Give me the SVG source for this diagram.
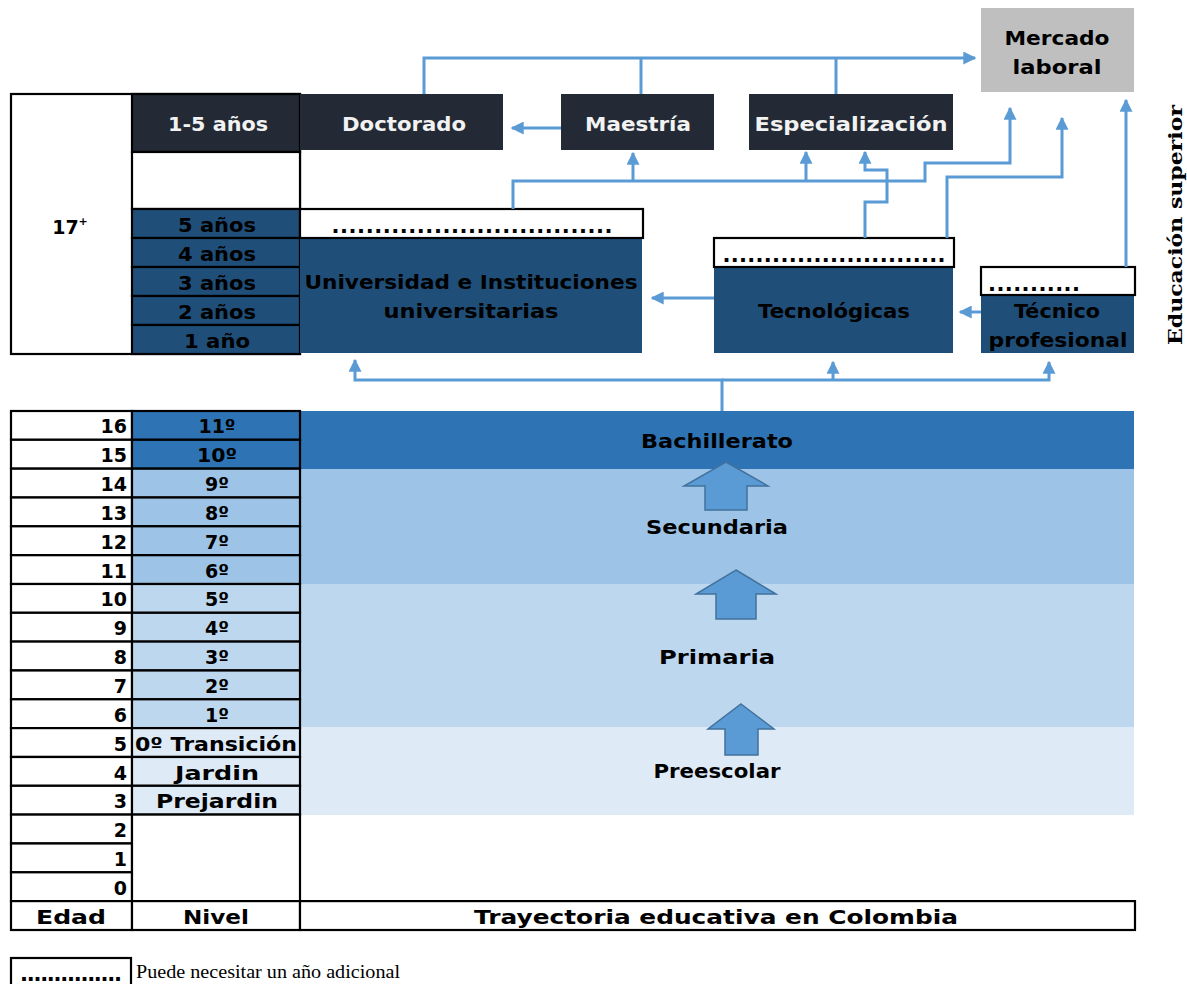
<svg xmlns="http://www.w3.org/2000/svg" width="1187" height="984" viewBox="0 0 1187 984">
<style>
.b{stroke:#000;stroke-width:2.2}
.dk{fill:#232a35}
.bl{fill:#1f4e79}
.c1{fill:#2e74b5}
.c2{fill:#9dc3e6}
.c3{fill:#bdd7ee}
.c4{fill:#deebf7}
.w{fill:#fff}
text{font-family:"DejaVu Sans",sans-serif;font-weight:bold;fill:#000}
.wt{fill:#f2f2f2}
.m{text-anchor:middle}
.r{text-anchor:end}
.t17{font-size:19px}
.t18{font-size:19px}
.dots{font-size:21px}
.con{fill:none;stroke:#5b9bd5;stroke-width:3}
.ba{fill:#5b9bd5;stroke:#41719c;stroke-width:1.5}
</style>
<defs>
<marker id="ah" viewBox="0 0 10 10" refX="9" refY="5" markerWidth="13" markerHeight="13" markerUnits="userSpaceOnUse" orient="auto">
<path d="M0,0 L10,5 L0,10 z" fill="#5b9bd5"/>
</marker>
</defs>
<rect width="1187" height="984" fill="#fff"/>

<g id="tabla-superior">
<rect x="11" y="94" width="289" height="260" class="w b"/>
<rect x="132" y="94" width="168" height="58" class="dk b"/>
<rect x="132" y="152" width="168" height="57" class="w b"/>
<rect x="132" y="209" width="168" height="29" class="bl b"/>
<rect x="132" y="238" width="168" height="29" class="bl b"/>
<rect x="132" y="267" width="168" height="29" class="bl b"/>
<rect x="132" y="296" width="168" height="29" class="bl b"/>
<rect x="132" y="325" width="168" height="29" class="bl b"/>
<text x="218" y="131" class="m t17 wt" textLength="100" lengthAdjust="spacingAndGlyphs">1-5 años</text>
<text x="217" y="232" class="m t17" textLength="78" lengthAdjust="spacingAndGlyphs">5 años</text>
<text x="217" y="261" class="m t17" textLength="78" lengthAdjust="spacingAndGlyphs">4 años</text>
<text x="217" y="290" class="m t17" textLength="78" lengthAdjust="spacingAndGlyphs">3 años</text>
<text x="217" y="319" class="m t17" textLength="78" lengthAdjust="spacingAndGlyphs">2 años</text>
<text x="217" y="348" class="m t17" textLength="66" lengthAdjust="spacingAndGlyphs">1 año</text>
<text x="70" y="234" class="m t18">17<tspan font-size="11" dy="-9">+</tspan></text>
</g>

<g id="doctorado">
<rect x="300" y="94" width="203" height="56" class="dk"/>
<text x="404" y="131" class="m t18 wt" textLength="124" lengthAdjust="spacingAndGlyphs">Doctorado</text>
</g>
<g id="maestria">
<rect x="561" y="94" width="153" height="56" class="dk"/>
<text x="638" y="131" class="m t18 wt" textLength="106" lengthAdjust="spacingAndGlyphs">Maestría</text>
</g>
<g id="especializacion">
<rect x="749" y="94" width="204" height="56" class="dk"/>
<text x="851" y="131" class="m t18 wt" textLength="193" lengthAdjust="spacingAndGlyphs">Especialización</text>
</g>
<g id="mercado">
<rect x="981" y="8" width="153" height="84" fill="#bfbfbf"/>
<text x="1057" y="45" class="m t18" textLength="105" lengthAdjust="spacingAndGlyphs">Mercado</text>
<text x="1057" y="74" class="m t18" textLength="89" lengthAdjust="spacingAndGlyphs">laboral</text>
</g>

<g id="universidad">
<rect x="300" y="238" width="342" height="115" class="bl"/>
<rect x="300" y="209" width="343" height="29" class="w b"/>
<text x="472" y="233" class="m dots" textLength="281" lengthAdjust="spacing">.................................</text>
<text x="471" y="289" class="m t18" textLength="333" lengthAdjust="spacingAndGlyphs">Universidad e Instituciones</text>
<text x="471" y="318" class="m t18" textLength="175" lengthAdjust="spacingAndGlyphs">universitarias</text>
</g>

<g id="tecnologicas">
<rect x="714" y="267" width="239" height="86" class="bl"/>
<rect x="714" y="238" width="240" height="29" class="w b"/>
<text x="834" y="262" class="m dots" textLength="223" lengthAdjust="spacing">...........................</text>
<text x="834" y="318" class="m t18" textLength="152" lengthAdjust="spacingAndGlyphs">Tecnológicas</text>
</g>

<g id="tecnico">
<rect x="981" y="295" width="153" height="58" class="bl"/>
<rect x="981" y="267" width="154" height="28" class="w b"/>
<text x="1034" y="291" class="m dots" textLength="92" lengthAdjust="spacing">...........</text>
<text x="1057" y="318" class="m t18" textLength="86" lengthAdjust="spacingAndGlyphs">Técnico</text>
<text x="1058" y="347" class="m t18" textLength="139" lengthAdjust="spacingAndGlyphs">profesional</text>
</g>

<text x="1182" y="225" class="m" style="font-family:'DejaVu Serif',serif;font-size:19px" transform="rotate(-90 1182 225)" textLength="240" lengthAdjust="spacingAndGlyphs">Educación superior</text>

<g id="bachillerato">
<rect x="300" y="411" width="834" height="58" class="c1"/>
<text x="717" y="448" class="m t18" textLength="152" lengthAdjust="spacingAndGlyphs">Bachillerato</text>
</g>
<g id="secundaria">
<rect x="300" y="469" width="834" height="115" class="c2"/>
<text x="717" y="534" class="m t18" textLength="142" lengthAdjust="spacingAndGlyphs">Secundaria</text>
</g>
<g id="primaria">
<rect x="300" y="584" width="834" height="143" class="c3"/>
<text x="717" y="664" class="m t18" textLength="116" lengthAdjust="spacingAndGlyphs">Primaria</text>
</g>
<g id="preescolar">
<rect x="300" y="727" width="834" height="88" class="c4"/>
<text x="717" y="778" class="m t18" textLength="127" lengthAdjust="spacingAndGlyphs">Preescolar</text>
</g>

<g id="flechas-bloque">
<polygon points="726,462 768,486 747,486 747,510 705,510 705,486 684,486" class="ba"/>
<polygon points="736,570 776,594 756,594 756,619 716,619 716,594 696,594" class="ba"/>
<polygon points="741,704 774,729 758,729 758,755 725,755 725,729 708,729" class="ba"/>
</g>

<g id="tabla-inferior">
<rect x="11" y="411" width="121" height="28.8" class="w b"/><rect x="132" y="411" width="168" height="28.8" class="c1 b"/>
<rect x="11" y="439.8" width="121" height="28.8" class="w b"/><rect x="132" y="439.8" width="168" height="28.8" class="c1 b"/>
<rect x="11" y="468.7" width="121" height="28.8" class="w b"/><rect x="132" y="468.7" width="168" height="28.8" class="c2 b"/>
<rect x="11" y="497.5" width="121" height="28.8" class="w b"/><rect x="132" y="497.5" width="168" height="28.8" class="c2 b"/>
<rect x="11" y="526.3" width="121" height="28.8" class="w b"/><rect x="132" y="526.3" width="168" height="28.8" class="c2 b"/>
<rect x="11" y="555.2" width="121" height="28.8" class="w b"/><rect x="132" y="555.2" width="168" height="28.8" class="c2 b"/>
<rect x="11" y="584" width="121" height="28.8" class="w b"/><rect x="132" y="584" width="168" height="28.8" class="c3 b"/>
<rect x="11" y="612.8" width="121" height="28.8" class="w b"/><rect x="132" y="612.8" width="168" height="28.8" class="c3 b"/>
<rect x="11" y="641.6" width="121" height="28.8" class="w b"/><rect x="132" y="641.6" width="168" height="28.8" class="c3 b"/>
<rect x="11" y="670.5" width="121" height="28.8" class="w b"/><rect x="132" y="670.5" width="168" height="28.8" class="c3 b"/>
<rect x="11" y="699.3" width="121" height="28.8" class="w b"/><rect x="132" y="699.3" width="168" height="28.8" class="c3 b"/>
<rect x="11" y="728.1" width="121" height="28.8" class="w b"/><rect x="132" y="728.1" width="168" height="28.8" class="c4 b"/>
<rect x="11" y="757" width="121" height="28.8" class="w b"/><rect x="132" y="757" width="168" height="28.8" class="c4 b"/>
<rect x="11" y="785.8" width="121" height="28.8" class="w b"/><rect x="132" y="785.8" width="168" height="28.8" class="c4 b"/>
<rect x="11" y="814.6" width="121" height="28.8" class="w b"/>
<rect x="11" y="843.5" width="121" height="28.8" class="w b"/>
<rect x="11" y="872.3" width="121" height="28.8" class="w b"/>
<rect x="132" y="814.6" width="168" height="86.5" class="w b"/>
<rect x="11" y="901.1" width="121" height="28.9" class="w b"/>
<rect x="132" y="901.1" width="168" height="28.9" class="w b"/>
<rect x="300" y="901.1" width="835" height="28.9" class="w b"/>
<text x="127" y="433" class="r t17">16</text><text x="217" y="433" class="m t17" textLength="37" lengthAdjust="spacingAndGlyphs">11º</text>
<text x="127" y="462" class="r t17">15</text><text x="217" y="462" class="m t17" textLength="40" lengthAdjust="spacingAndGlyphs">10º</text>
<text x="127" y="491" class="r t17">14</text><text x="217" y="491" class="m t17">9º</text>
<text x="127" y="520" class="r t17">13</text><text x="217" y="520" class="m t17">8º</text>
<text x="127" y="549" class="r t17">12</text><text x="217" y="549" class="m t17">7º</text>
<text x="127" y="578" class="r t17">11</text><text x="217" y="578" class="m t17">6º</text>
<text x="127" y="606" class="r t17">10</text><text x="217" y="606" class="m t17">5º</text>
<text x="127" y="635" class="r t17">9</text><text x="217" y="635" class="m t17">4º</text>
<text x="127" y="664" class="r t17">8</text><text x="217" y="664" class="m t17">3º</text>
<text x="127" y="693" class="r t17">7</text><text x="217" y="693" class="m t17">2º</text>
<text x="127" y="722" class="r t17">6</text><text x="217" y="722" class="m t17">1º</text>
<text x="127" y="751" class="r t17">5</text><text x="216" y="751" class="m t17" textLength="162" lengthAdjust="spacingAndGlyphs">0º Transición</text>
<text x="127" y="780" class="r t17">4</text><text x="217" y="780" class="m t17" textLength="84" lengthAdjust="spacingAndGlyphs">Jardin</text>
<text x="127" y="808" class="r t17">3</text><text x="217" y="808" class="m t17" textLength="122" lengthAdjust="spacingAndGlyphs">Prejardin</text>
<text x="127" y="837" class="r t17">2</text>
<text x="127" y="866" class="r t17">1</text>
<text x="127" y="895" class="r t17">0</text>
<text x="71" y="924" class="m t18" textLength="70" lengthAdjust="spacingAndGlyphs">Edad</text>
<text x="216" y="924" class="m t18" textLength="66" lengthAdjust="spacingAndGlyphs">Nivel</text>
<text x="716" y="924" class="m t18" textLength="484" lengthAdjust="spacingAndGlyphs">Trayectoria educativa en Colombia</text>
</g>

<g id="conectores">
<polyline points="424,94 424,58 975,58" class="con" marker-end="url(#ah)"/>
<line x1="641" y1="94" x2="641" y2="58" class="con"/>
<line x1="836" y1="94" x2="836" y2="58" class="con"/>
<line x1="561" y1="128" x2="512" y2="128" class="con" marker-end="url(#ah)"/>
<polyline points="513,209 513,181 925,181 925,163 1010,163 1010,108" class="con" marker-end="url(#ah)"/>
<line x1="633" y1="181" x2="633" y2="153" class="con" marker-end="url(#ah)"/>
<line x1="806" y1="181" x2="806" y2="152" class="con" marker-end="url(#ah)"/>
<polyline points="865,238 865,202 887,202 887,170 865,170 865,152" class="con" marker-end="url(#ah)"/>
<polyline points="947,238 947,177 1062,177 1062,118" class="con" marker-end="url(#ah)"/>
<line x1="1126" y1="267" x2="1126" y2="100" class="con" marker-end="url(#ah)"/>
<line x1="714" y1="298" x2="652" y2="298" class="con" marker-end="url(#ah)"/>
<line x1="981" y1="312" x2="960" y2="312" class="con" marker-end="url(#ah)"/>
<polyline points="722,411 722,380 355,380 355,360" class="con" marker-end="url(#ah)"/>
<polyline points="722,380 1049,380 1049,362" class="con" marker-end="url(#ah)"/>
<line x1="833" y1="380" x2="833" y2="362" class="con" marker-end="url(#ah)"/>
</g>

<g id="leyenda">
<rect x="11" y="958" width="120" height="34" class="w b"/>
<text x="71" y="981" class="m dots" textLength="102" lengthAdjust="spacing">...............</text>
<text x="136" y="978" style="font-family:'Liberation Serif',serif;font-weight:normal;font-size:18px" textLength="264" lengthAdjust="spacingAndGlyphs">Puede necesitar un año adicional</text>
</g>
</svg>
